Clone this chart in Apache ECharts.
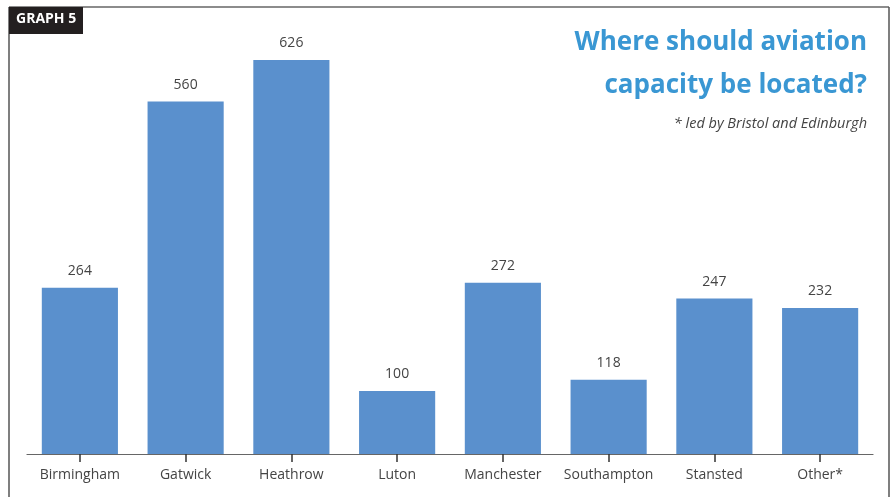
<!DOCTYPE html>
<html><head><meta charset="utf-8">
<script src="https://cdn.jsdelivr.net/npm/echarts@6/dist/echarts.min.js"></script>
<style>html,body{margin:0;padding:0;background:#fff}#c{width:896px;height:497px}</style>
</head><body><div id="c"></div>
<script>
const categories = ['Birmingham','Gatwick','Heathrow','Luton','Manchester','Southampton','Stansted','Other*'];
const values = [264,560,626,100,272,118,247,232];
const titleLines = ['Where should aviation','capacity be located?'];
const note = '* led by Bristol and Edinburgh';
const badge = 'GRAPH 5';

const chart = echarts.init(document.getElementById('c'), null, {renderer:'canvas'});
const font = '"Open Sans", "Noto Sans", sans-serif';
chart.setOption({
  animation:false,
  grid:{left:27, right:23, top:13.4, bottom:43},
  xAxis:{type:'category', data:categories,
    axisLine:{show:true, lineStyle:{color:'#666', width:1.2}},
    axisTick:{show:true, interval:0, alignWithLabel:true, inside:false, length:8, lineStyle:{color:'#333', width:1.5}},
    axisLabel:{interval:0, color:'#444', fontSize:14, fontFamily:font, margin:14}},
  yAxis:{type:'value', min:0, max:700, show:false, splitLine:{show:false}},
  series:[{type:'bar', data:values, barWidth:'72%', itemStyle:{color:'#5a90cd'},
    label:{show:true, position:'top', distance:10, color:'#444', fontSize:14, fontFamily:font}}],
  graphic:[
    {type:'line', shape:{x1:9,y1:7,x2:889,y2:7}, style:{stroke:'#666', lineWidth:1.5}},
    {type:'line', shape:{x1:9,y1:7,x2:9,y2:497}, style:{stroke:'#555', lineWidth:1.5}},
    {type:'line', shape:{x1:889,y1:7,x2:889,y2:497}, style:{stroke:'#555', lineWidth:1.5}},
    {type:'rect', shape:{x:9,y:7,width:74,height:27}, style:{fill:'#231f20'}},
    {type:'text', left:16, top:12, style:{text:badge, fill:'#fff', font:'bold 14px '+font}},
    {type:'text', right:29, top:30, style:{text:titleLines[0], fill:'#3a97d3', font:'bold 26px '+font, textAlign:'right'}},
    {type:'text', right:29, top:73, style:{text:titleLines[1], fill:'#3a97d3', font:'bold 26px '+font, textAlign:'right'}},
    {type:'text', right:29, top:116, style:{text:note, fill:'#444', font:'italic 14.5px '+font, textAlign:'right'}}
  ]
});
</script></body></html>
